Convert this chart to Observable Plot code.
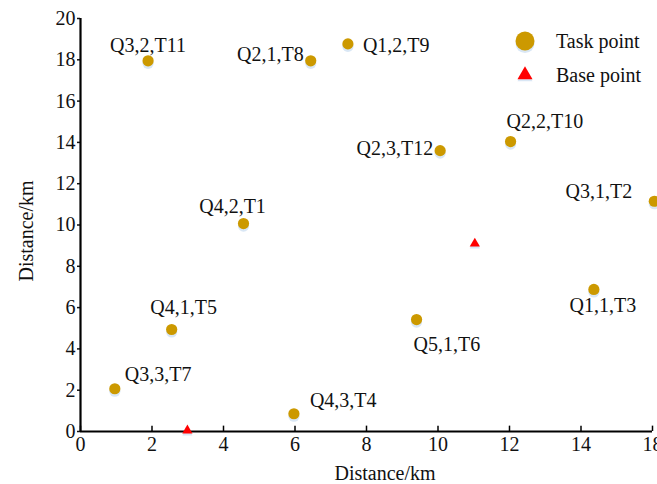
<!DOCTYPE html>
<html>
<head>
<meta charset="utf-8">
<script src="https://cdn.jsdelivr.net/npm/d3@7"></script>
<script src="https://cdn.jsdelivr.net/npm/@observablehq/plot@0.6"></script>
<style>
  body { margin: 0; background: #fff; }
  #wrap { position: relative; width: 657px; height: 484px; overflow: hidden; }
  .ov { position: absolute; font-size: 20px; line-height: 20px; color: #111; white-space: nowrap; }
  .row { display: flex; align-items: center; height: 34px; }
  .row svg { width: 30px; height: 30px; margin-right: 16px; }
</style>
</head>
<body>
<div id="wrap"></div>
<script>
// ---- data ----
const taskLabels = ["Q4,2,T1", "Q3,1,T2", "Q1,1,T3", "Q4,3,T4", "Q4,1,T5", "Q5,1,T6",
                    "Q3,3,T7", "Q2,1,T8", "Q1,2,T9", "Q2,2,T10", "Q3,2,T11", "Q2,3,T12"];
const taskX = [4.56, 16.05, 14.36, 5.97, 2.55, 9.40, 0.96, 6.44, 7.48, 12.03, 1.89, 10.06];
const taskY = [10.07, 11.15, 6.88, 0.86, 4.94, 5.42, 2.07, 17.95, 18.77, 14.04, 17.95, 13.6];
const baseX = [2.99, 11.03];
const baseY = [0.05, 9.1];
const xTicks = [0, 2, 4, 6, 8, 10, 12, 14, 16];
const xTickLabels = ["0", "2", "4", "6", "8", "10", "12", "14", "18"];
const yTicks = [0, 2, 4, 6, 8, 10, 12, 14, 16, 18, 20];
const axisTitle = "Distance/km";
const legendLabels = ["Task point", "Base point"];

// ---- styling / layout ----
const FONT = '"Liberation Serif", "Times New Roman", Times, serif';
const FS = 20;
const GOLD = "#cc9900";
const SHADOW = "#d9e7f5";
const RED = "#ff0000";
const place = {
  "Q4,2,T1":  ["middle", -11, -17],
  "Q3,1,T2":  ["end", -22, -10],
  "Q1,1,T3":  ["middle", 9, 16],
  "Q4,3,T4":  ["start", 16, -13],
  "Q4,1,T5":  ["middle", 12, -22],
  "Q5,1,T6":  ["start", -3, 25],
  "Q3,3,T7":  ["start", 10, -14],
  "Q2,1,T8":  ["end", -7, -6],
  "Q1,2,T9":  ["start", 15, 2],
  "Q2,2,T10": ["start", -4, -20],
  "Q3,2,T11": ["middle", 0, -15],
  "Q2,3,T12": ["end", -7, -2]
};

const tasks = taskLabels.map((label, i) => ({label, x: taskX[i], y: taskY[i]}));
const bases = baseX.map((x, i) => ({x, y: baseY[i]}));

const labelMarks = tasks.map(d => {
  const [anchor, dx, dy] = place[d.label];
  return Plot.text([d], {x: "x", y: "y", text: "label", textAnchor: anchor, dx, dy,
    fill: "#111", fontSize: FS, lineAnchor: "middle"});
});

const chart = Plot.plot({
  width: 657,
  height: 484,
  marginLeft: 80,
  marginRight: 5,
  marginTop: 18,
  marginBottom: 53,
  style: {fontSize: FS + "px", color: "#111", background: "#fff", overflow: "visible"},
  x: {domain: [0, 16]},
  y: {domain: [0, 20]},
  marks: [
    Plot.axisX({ticks: xTicks, tickSize: 0, tickPadding: 5, label: null,
      tickFormat: (d) => xTickLabels[xTicks.indexOf(d)], fontSize: FS}),
    Plot.axisY({ticks: yTicks, tickSize: 3, tickPadding: 2, label: null, fontSize: FS, strokeWidth: 1.5}),
    Plot.ruleX(xTicks, {y1: 0, y2: 0.26, stroke: "#000", strokeWidth: 1.5}),
    Plot.ruleX([0], {stroke: "#000", strokeWidth: 2.2}),
    Plot.ruleY([0], {stroke: "#000", strokeWidth: 2.2}),
    Plot.dot(tasks, {x: "x", y: "y", r: 5.6, fill: SHADOW, dy: 2.5}),
    Plot.dot(tasks, {x: "x", y: "y", r: 5.6, fill: GOLD}),
    Plot.dot(bases, {x: "x", y: "y", r: 3.8, symbol: "triangle", fill: SHADOW, dy: 2}),
    Plot.dot(bases, {x: "x", y: "y", r: 3.8, symbol: "triangle", fill: RED}),
    ...labelMarks
  ]
});

// force the serif face on every text element with an inline style
chart.style.fontFamily = FONT;
chart.querySelectorAll("text").forEach(t => {
  t.style.fontFamily = FONT;
  t.removeAttribute("font-family");
});

const wrap = document.getElementById("wrap");
wrap.appendChild(chart);

// axis titles (HTML overlays)
const xt = document.createElement("div");
xt.className = "ov";
xt.textContent = axisTitle;
xt.style.fontFamily = FONT;
xt.style.left = "385px";
xt.style.top = "473px";
xt.style.transform = "translate(-50%, -50%)";
wrap.appendChild(xt);

const yt = document.createElement("div");
yt.className = "ov";
yt.textContent = axisTitle;
yt.style.fontFamily = FONT;
yt.style.left = "26px";
yt.style.top = "231px";
yt.style.transform = "translate(-50%, -50%) rotate(-90deg)";
wrap.appendChild(yt);

// legend
const legend = document.createElement("div");
legend.className = "ov";
legend.style.fontFamily = FONT;
legend.style.left = "510px";
legend.style.top = "24px";
const tri = d3.symbol(d3.symbolTriangle, 5.6 * 5.6 * Math.PI)();
legend.innerHTML = `
  <div class="row"><svg viewBox="-15 -15 30 30"><circle cx="0" cy="2.5" r="9.5" fill="${SHADOW}"/><circle cx="0" cy="0" r="9.5" fill="${GOLD}"/></svg><span style='font-family:"Liberation Serif", "Times New Roman", serif'>${legendLabels[0]}</span></div>
  <div class="row"><svg viewBox="-15 -15 30 30"><path d="${tri}" transform="translate(0,2)" fill="${SHADOW}"/><path d="${tri}" fill="${RED}"/></svg><span style='font-family:"Liberation Serif", "Times New Roman", serif'>${legendLabels[1]}</span></div>`;
wrap.appendChild(legend);
</script>
</body>
</html>
